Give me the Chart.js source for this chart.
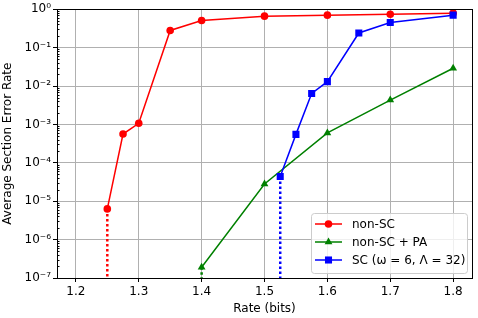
<!DOCTYPE html>
<html>
<head>
<meta charset="utf-8">
<script src="https://cdn.jsdelivr.net/npm/chart.js@4.4.1/dist/chart.umd.min.js"></script>
<style>
  html, body { margin: 0; padding: 0; background: #fff; }
</style>
</head>
<body>
<canvas id="myChart" width="478" height="318"></canvas>
<script>
// Datos
const rateNonSC = [1.25, 1.275, 1.3, 1.35, 1.4, 1.5, 1.6, 1.7, 1.8];
const errNonSC = [6.3e-6, 5.6e-4, 1.07e-3, 0.28, 0.51, 0.66, 0.70, 0.74, 0.79];
const ratePA = [1.4, 1.5, 1.6, 1.7, 1.8];
const errPA = [1.9e-7, 2.8e-5, 6.0e-4, 4.3e-3, 2.9e-2];
const rateSC = [1.525, 1.55, 1.575, 1.6, 1.65, 1.7, 1.8];
const errSC = [4.4e-5, 5.5e-4, 6.4e-3, 1.3e-2, 0.24, 0.45, 0.70];
const xTicks = [1.2, 1.3, 1.4, 1.5, 1.6, 1.7, 1.8];
const yTicks = [1e-7, 1e-6, 1e-5, 1e-4, 1e-3, 1e-2, 1e-1, 1];
const seriesLabels = ['non-SC', 'non-SC + PA', 'SC (\u03c9 = 6, \u039b = 32)'];

const FONT = "'DejaVu Sans', sans-serif";
const Y_MIN = 1e-7;

const sup = { '0': '\u2070', '1': '\u00b9', '2': '\u00b2', '3': '\u00b3', '4': '\u2074',
  '5': '\u2075', '6': '\u2076', '7': '\u2077', '8': '\u2078', '9': '\u2079', '-': '\u207b' };
const pow10 = (v) => '10' + String(Math.round(Math.log10(v))).split('').map(c => sup[c]).join('');

const pts = (xs, ys) => xs.map((x, i) => ({ x: x, y: ys[i] }));
// línea punteada desde el primer punto hasta el borde inferior
const drop = (xs, ys) => [{ x: xs[0], y: ys[0] }, { x: xs[0], y: Y_MIN }];

const series = [
  { label: seriesLabels[0], color: '#ff0000', style: 'circle', radius: 3.8, data: pts(rateNonSC, errNonSC), order: 2 },
  { label: seriesLabels[1], color: '#008000', style: 'triangle', radius: 4.5, data: pts(ratePA, errPA), order: 1 },
  { label: seriesLabels[2], color: '#0000ff', style: 'rect', radius: 5, data: pts(rateSC, errSC), order: 0 }
];

const datasets = series.map(s => ({
  label: s.label,
  data: s.data,
  borderColor: s.color,
  backgroundColor: s.color,
  borderWidth: 1.5,
  pointStyle: s.style,
  pointRadius: s.radius,
  pointBorderWidth: 0,
  tension: 0,
  order: s.order
}));

[[rateNonSC, errNonSC, '#ff0000'], [ratePA, errPA, '#008000'], [rateSC, errSC, '#0000ff']].forEach(d => {
  datasets.push({
    label: '',
    data: drop(d[0], d[1]),
    borderColor: d[2],
    borderWidth: 2.5,
    borderDash: [2.5, 2.5],
    pointRadius: 0,
    order: 3
  });
});

// marco, ticks menores y leyenda
const extras = {
  id: 'extras',
  afterDraw(chart) {
    const ctx = chart.ctx;
    const a = chart.chartArea;
    const y = chart.scales.y;
    ctx.save();
    ctx.strokeStyle = '#000';
    ctx.lineWidth = 1;
    for (let e = -7; e < 0; e++) {
      for (let k = 2; k <= 9; k++) {
        const py = Math.round(y.getPixelForValue(k * Math.pow(10, e))) + 0.5;
        ctx.beginPath();
        ctx.moveTo(a.left, py);
        ctx.lineTo(a.left + 2.5, py);
        ctx.stroke();
      }
    }
    ctx.strokeRect(Math.round(a.left) + 0.5, Math.round(a.top) + 0.5,
      Math.round(a.right - a.left), Math.round(a.bottom - a.top));

    // leyenda
    const bx = 311, by = 213, bw = 156, bh = 60;
    ctx.beginPath();
    ctx.roundRect(bx + 0.5, by + 0.5, bw, bh, 3);
    ctx.fillStyle = 'rgba(255,255,255,0.8)';
    ctx.fill();
    ctx.strokeStyle = '#cccccc';
    ctx.stroke();
    ctx.font = '12px ' + FONT;
    ctx.textBaseline = 'middle';
    series.forEach((s, i) => {
      const ry = 224 + i * 18;
      ctx.strokeStyle = s.color;
      ctx.fillStyle = s.color;
      ctx.lineWidth = 1.5;
      ctx.beginPath();
      ctx.moveTo(315, ry);
      ctx.lineTo(342, ry);
      ctx.stroke();
      Chart.helpers.drawPoint(ctx, { pointStyle: s.style, radius: s.radius, rotation: 0, borderWidth: 0 }, 328.5, ry);
      ctx.fillStyle = '#000';
      ctx.fillText(s.label, 352, ry + 1);
    });
    ctx.restore();
  }
};

const ctx = document.getElementById('myChart').getContext('2d');
const myChart = new Chart(ctx, {
  type: 'line',
  data: { datasets: datasets },
  options: {
    responsive: false,
    animation: false,
    layout: { padding: { top: 9, right: 6, left: 0, bottom: 2 } },
    plugins: { legend: { display: false }, tooltip: { enabled: false } },
    scales: {
      x: {
        type: 'linear',
        min: 1.17,
        max: 1.83,
        afterBuildTicks: (scale) => { scale.ticks = xTicks.map(v => ({ value: v })); },
        afterFit: (scale) => { scale.height = 38; },
        ticks: { callback: (v) => v.toFixed(1), color: '#000', font: { family: FONT, size: 12 }, padding: 3, maxRotation: 0 },
        grid: { color: '#b0b0b0', lineWidth: 1, tickColor: '#000', tickLength: 4 },
        border: { color: '#000' },
        title: { display: true, text: 'Rate (bits)', color: '#000', font: { family: FONT, size: 12 }, padding: 0 }
      },
      y: {
        type: 'logarithmic',
        min: Y_MIN,
        max: 1,
        afterBuildTicks: (scale) => { scale.ticks = yTicks.map(v => ({ value: v })); },
        afterFit: (scale) => { scale.width = 57; },
        ticks: { callback: (v) => pow10(v), color: '#000', font: { family: FONT, size: 12 }, padding: 2 },
        grid: { color: '#b0b0b0', lineWidth: 1, tickColor: '#000', tickLength: 4 },
        border: { color: '#000' },
        title: { display: true, text: 'Average Section Error Rate', color: '#000', font: { family: FONT, size: 12, lineHeight: 1.25 }, padding: 0 }
      }
    }
  },
  plugins: [extras]
});
</script>
</body>
</html>
